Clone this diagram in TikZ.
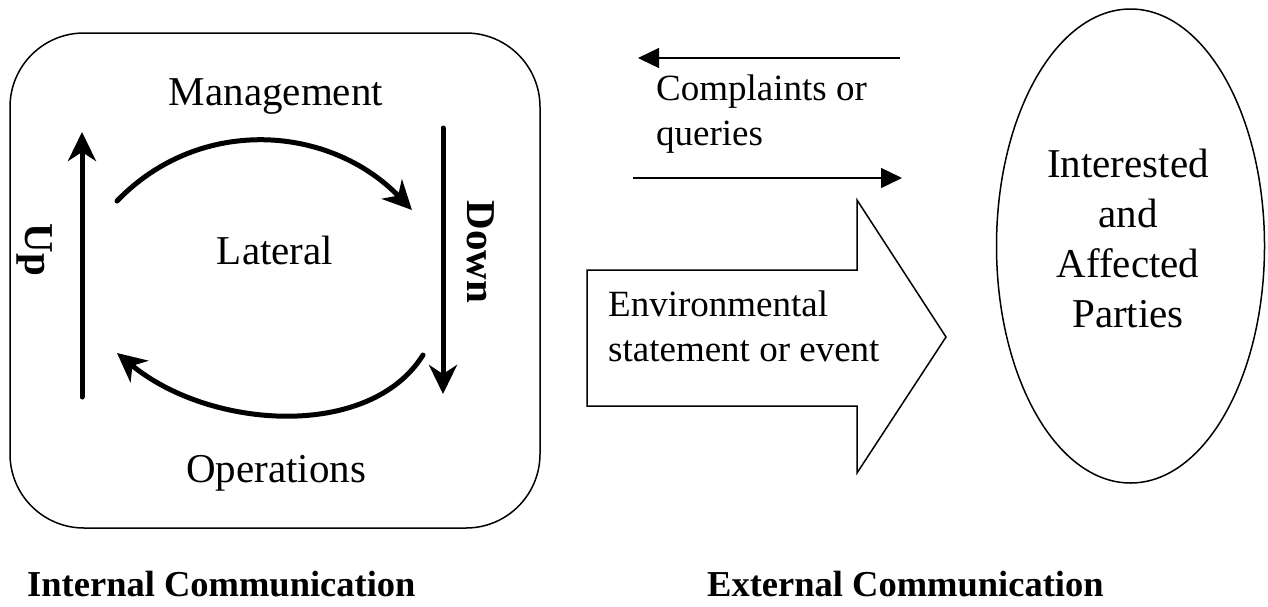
\documentclass[tikz,border=0pt]{standalone}
\usepackage{fontspec}
\setmainfont{Liberation Serif}
\usetikzlibrary{arrows.meta,shapes.geometric}
\begin{document}
\begin{tikzpicture}[x=1pt,y=-1pt,
  boxtext/.style={inner sep=0pt,font=\fontsize{41}{50}\selectfont},
  sidetext/.style={inner sep=0pt,font=\fontsize{37}{45}\selectfont,align=left,anchor=north west},
  caption/.style={inner sep=0pt,font=\fontsize{36.5}{44}\selectfont\bfseries,anchor=base west},
  rotlbl/.style={inner sep=0pt,font=\fontsize{41}{48}\selectfont\bfseries,rotate=-90},
  thickarrow/.style={line width=5pt,line cap=round,-{Stealth[length=29pt,width=28pt,inset=9pt]}},
  thinarrow/.style={line width=1.4pt,-{Triangle[length=21pt,width=20pt]}},
  outline/.style={draw,line width=1.5pt}]
\useasboundingbox (0,0) rectangle (1268,606);
% internal box
\node[outline,rounded corners=74pt,minimum width=530pt,minimum height=495pt,inner sep=0pt] (intbox) at (275,280.5) {};
\node[boxtext,anchor=base] (mgmt) at (276,105) {Management};
\node[boxtext,anchor=base] (lat) at (275,264) {Lateral};
\node[boxtext,anchor=base] (ops) at (276,482) {Operations};
\node[rotlbl] (up) at (35,250) {Up};
\node[rotlbl] (down) at (481,252) {Down};
% arrow end points
\coordinate (upS) at (82,397);
\coordinate (upE) at (82,132);
\coordinate (dnS) at (443,128);
\coordinate (dnE) at (443,394);
\coordinate (taS) at (117,201);
\coordinate (taE) at (412,210);
\coordinate (baS) at (423,355);
\coordinate (baE) at (117,353);
\draw[thickarrow] (upS) -- (upE);
\draw[thickarrow] (dnS) -- (dnE);
\draw[thickarrow] (taS) .. controls (200,115) and (330,125) .. (taE);
\draw[thickarrow] (baS) .. controls (370,440) and (210,430) .. (baE);
% external part
\coordinate (c1S) at (900,58);
\coordinate (c1E) at (638,58);
\coordinate (c2S) at (633,178);
\coordinate (c2E) at (902,178);
\draw[thinarrow] (c1S) -- (c1E);
\draw[thinarrow] (c2S) -- (c2E);
\node[sidetext] (compl) at (656,74.7) {Complaints or\\queries};
\draw[outline,line join=miter] (587,270) -- (857,270) -- (857,200) -- (946,337) -- (857,473) -- (857,406) -- (587,406) -- cycle;
\node[sidetext] (env) at (608,290.7) {Environmental\\statement or event};
\node[outline,ellipse,minimum width=268pt,minimum height=474pt,inner sep=0pt] (iap) at (1130.5,246) {};
\node[boxtext,align=center,anchor=north] (iaptext) at (1128,149) {Interested\\and\\Affected\\Parties};
% captions
\node[caption] (intcap) at (27,596) {Internal Communication};
\node[caption] (extcap) at (707,596) {External Communication};
\end{tikzpicture}
\end{document}
